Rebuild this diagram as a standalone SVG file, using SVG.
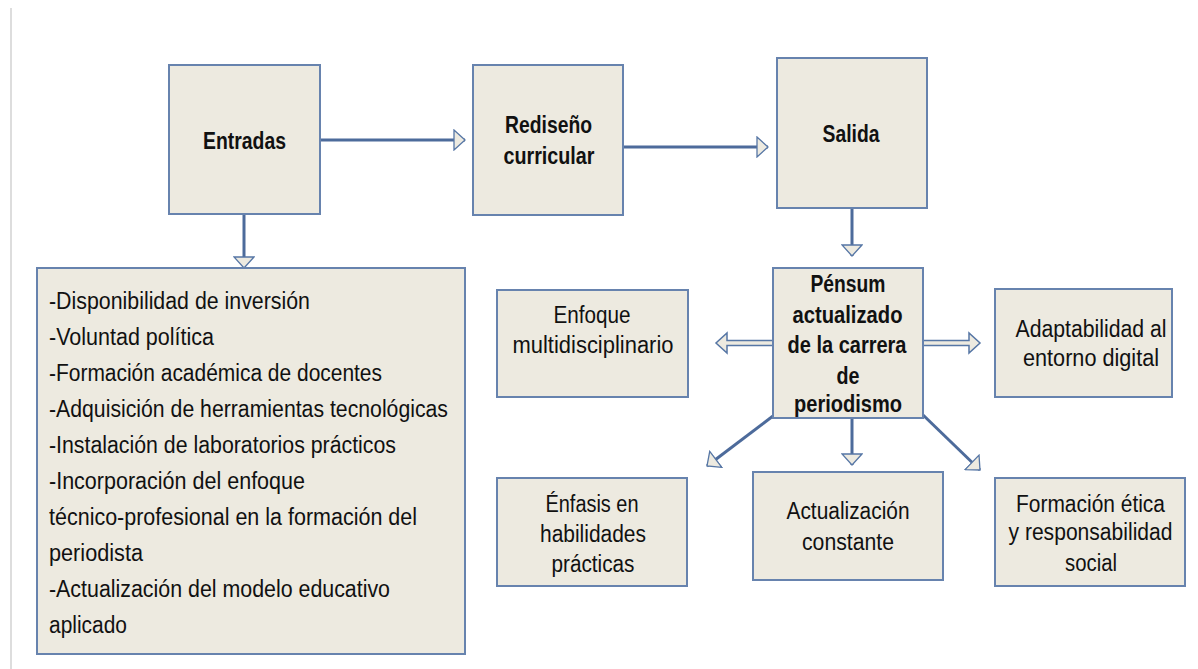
<svg xmlns="http://www.w3.org/2000/svg" width="1198" height="669" viewBox="0 0 1198 669">
<defs>
<style>
.box{fill:#EDEAE0;stroke:#6783AE;stroke-width:2}
.t{font-family:"Liberation Sans",Arial,sans-serif;font-size:23px;fill:#111;text-anchor:middle}
.b{font-weight:bold}
.l{text-anchor:start}
.ln{stroke:#4D6B9B;stroke-width:3;fill:none;marker-end:url(#ah)}
.hol{fill:#EDEAE0;stroke:#5676A5;stroke-width:1.5;stroke-linejoin:miter}
</style>
<marker id="ah" viewBox="0 0 13 22" refX="12" refY="11" markerWidth="13" markerHeight="22" markerUnits="userSpaceOnUse" orient="auto">
<path d="M1,1 L12,11 L1,21 Z" fill="#EDEAE0" stroke="#5676A5" stroke-width="1.3"/>
</marker>
</defs>
<rect width="1198" height="669" fill="#fff"/>
<line x1="11" y1="8" x2="11" y2="669" stroke="#D2D2D2" stroke-width="1.5"/>

<g id="connectors">
<line class="ln" x1="320" y1="140" x2="465" y2="140"/>
<line class="ln" x1="244" y1="214" x2="244" y2="268"/>
<line class="ln" x1="623" y1="147" x2="768" y2="147"/>
<line class="ln" x1="852" y1="208" x2="852" y2="256"/>
<line class="ln" x1="852" y1="418" x2="852" y2="465"/>
<line class="ln" x1="773" y1="416" x2="707" y2="466"/>
<line class="ln" x1="922" y1="414" x2="980" y2="470"/>
<polygon class="hol" points="773,340.5 727,340.5 727,333 716,343 727,353 727,345.5 773,345.5"/>
<polygon class="hol" points="923,340.5 969,340.5 969,333 980,343 969,353 969,345.5 923,345.5"/>
</g>

<g id="entradas">
<rect class="box" x="169" y="65" width="151" height="149"/>
<text class="t b" x="244.5" y="149" textLength="83" lengthAdjust="spacingAndGlyphs">Entradas</text>
</g>
<g id="rediseno">
<rect class="box" x="473" y="65" width="150" height="150"/>
<text class="t b" x="548.5" y="133" textLength="87" lengthAdjust="spacingAndGlyphs">Rediseño</text>
<text class="t b" x="549" y="164" textLength="91" lengthAdjust="spacingAndGlyphs">curricular</text>
</g>
<g id="salida">
<rect class="box" x="777" y="58" width="150" height="150"/>
<text class="t b" x="851" y="142" textLength="57" lengthAdjust="spacingAndGlyphs">Salida</text>
</g>
<g id="insumos">
<rect class="box" x="37" y="268" width="428" height="386"/>
<text class="t l" x="49" y="309" textLength="261" lengthAdjust="spacingAndGlyphs">-Disponibilidad de inversión</text>
<text class="t l" x="49" y="345" textLength="165" lengthAdjust="spacingAndGlyphs">-Voluntad política</text>
<text class="t l" x="49" y="381" textLength="333" lengthAdjust="spacingAndGlyphs">-Formación académica de docentes</text>
<text class="t l" x="49" y="417" textLength="399" lengthAdjust="spacingAndGlyphs">-Adquisición de herramientas tecnológicas</text>
<text class="t l" x="49" y="453" textLength="347" lengthAdjust="spacingAndGlyphs">-Instalación de laboratorios prácticos</text>
<text class="t l" x="49" y="489" textLength="256" lengthAdjust="spacingAndGlyphs">-Incorporación del enfoque</text>
<text class="t l" x="49" y="525" textLength="368" lengthAdjust="spacingAndGlyphs">técnico-profesional en la formación del</text>
<text class="t l" x="49" y="561" textLength="94" lengthAdjust="spacingAndGlyphs">periodista</text>
<text class="t l" x="49" y="597" textLength="341" lengthAdjust="spacingAndGlyphs">-Actualización del modelo educativo</text>
<text class="t l" x="49" y="633" textLength="78" lengthAdjust="spacingAndGlyphs">aplicado</text>
</g>
<g id="pensum">
<rect class="box" x="773" y="268" width="150" height="150"/>
<text class="t b" x="848" y="292" textLength="75" lengthAdjust="spacingAndGlyphs">Pénsum</text>
<text class="t b" x="847.5" y="323" textLength="110" lengthAdjust="spacingAndGlyphs">actualizado</text>
<text class="t b" x="847" y="353" textLength="119" lengthAdjust="spacingAndGlyphs">de la carrera</text>
<text class="t b" x="848" y="384" textLength="23" lengthAdjust="spacingAndGlyphs">de</text>
<text class="t b" x="848" y="412" textLength="108" lengthAdjust="spacingAndGlyphs">periodismo</text>
</g>
<g id="enfoque">
<rect class="box" x="497" y="290" width="191" height="107"/>
<text class="t" x="592" y="323" textLength="77" lengthAdjust="spacingAndGlyphs">Enfoque</text>
<text class="t" x="593" y="353" textLength="161" lengthAdjust="spacingAndGlyphs">multidisciplinario</text>
</g>
<g id="adaptabilidad">
<rect class="box" x="995" y="289" width="177" height="108"/>
<text class="t" x="1091" y="337" textLength="151" lengthAdjust="spacingAndGlyphs">Adaptabilidad al</text>
<text class="t" x="1091" y="366" textLength="136" lengthAdjust="spacingAndGlyphs">entorno digital</text>
</g>
<g id="enfasis">
<rect class="box" x="497" y="478" width="190" height="108"/>
<text class="t" x="592" y="512" textLength="93" lengthAdjust="spacingAndGlyphs">Énfasis en</text>
<text class="t" x="593" y="542" textLength="106" lengthAdjust="spacingAndGlyphs">habilidades</text>
<text class="t" x="593" y="572" textLength="83" lengthAdjust="spacingAndGlyphs">prácticas</text>
</g>
<g id="actualizacion">
<rect class="box" x="753" y="472" width="190" height="108"/>
<text class="t" x="848" y="519" textLength="123" lengthAdjust="spacingAndGlyphs">Actualización</text>
<text class="t" x="848" y="550" textLength="92" lengthAdjust="spacingAndGlyphs">constante</text>
</g>
<g id="etica">
<rect class="box" x="995" y="478" width="190" height="108"/>
<text class="t" x="1090.5" y="512" textLength="149" lengthAdjust="spacingAndGlyphs">Formación ética</text>
<text class="t" x="1090.5" y="540" textLength="164" lengthAdjust="spacingAndGlyphs">y responsabilidad</text>
<text class="t" x="1091" y="571" textLength="52" lengthAdjust="spacingAndGlyphs">social</text>
</g>
</svg>
